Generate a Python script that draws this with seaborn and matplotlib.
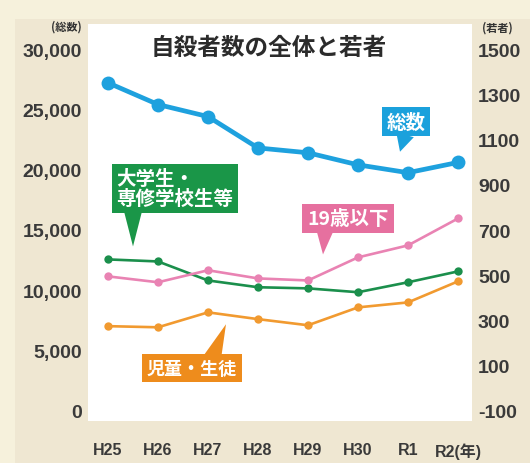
import matplotlib
matplotlib.use("Agg")
import matplotlib.pyplot as plt
import matplotlib.patches as mpatches
import seaborn as sns
import pandas as pd

# ---------------- data ----------------
years = ["H25", "H26", "H27", "H28", "H29", "H30", "R1", "R2(年)"]
total = [27200, 25400, 24400, 21800, 21400, 20400, 19750, 20600]          # 総数 (left axis)
univ = [570, 561, 477, 447, 442, 425, 469, 517]                           # 大学生・専修学校生等
under19 = [495, 469, 522, 486, 477, 579, 632, 751]                        # 19歳以下
students = [275, 270, 336, 306, 279, 358, 380, 473]                       # 児童・生徒

left_ticks = [0, 5000, 10000, 15000, 20000, 25000, 30000]
right_ticks = [-100, 100, 300, 500, 700, 900, 1100, 1300, 1500]

series_names = ["大学生・専修学校生等", "19歳以下", "児童・生徒"]
series_colors = ["#1b8f4c", "#e983b3", "#f19a30"]
box_colors = {"総数": "#1ba1dc", "19歳以下": "#e6709f",
              "大学生・\n専修学校生等": "#1a9648", "児童・生徒": "#ee8c1c"}

# ---------------- frames ----------------
x_idx = list(range(len(years)))
df_total = pd.DataFrame({"x": x_idx, "value": total})
df_young = pd.concat([
    pd.DataFrame({"x": x_idx, "value": vals, "series": name})
    for name, vals in zip(series_names, [univ, under19, students])
], ignore_index=True)

sns.set_theme(style="white")
plt.rcParams["font.family"] = ["Liberation Sans", "Noto Sans CJK JP", "DejaVu Sans"]
CJK = ["Noto Sans CJK JP", "DejaVu Sans"]

W, H = 530, 464
fig = plt.figure(figsize=(W / 100, H / 100), dpi=100, facecolor="#f6f1dc")
fig.patches.append(mpatches.Rectangle((15 / W, 0), 1, (H - 20) / H,
                                      transform=fig.transFigure,
                                      facecolor="#efe7d2", edgecolor="none",
                                      zorder=-5))

ax2 = fig.add_axes([88 / W, (H - 422) / H, (472 - 88) / W, (422 - 25) / H])
ax = ax2.twinx()
ax2.set_zorder(1)
ax.set_zorder(2)
ax.patch.set_visible(False)
ax2.patch.set_visible(True)
ax2.patch.set_facecolor("white")

# young series on the right axis
sns.lineplot(data=df_young, x="x", y="value", hue="series",
             hue_order=series_names, palette=series_colors,
             marker="o", markersize=6, markeredgewidth=0, linewidth=1.9,
             legend=False, ax=ax2)
# total on the left axis
sns.lineplot(data=df_total, x="x", y="value", color="#1ea1de",
             marker="o", markersize=10, markeredgewidth=0, linewidth=3.4,
             legend=False, ax=ax)

ax.yaxis.tick_left()
ax2.yaxis.tick_right()

ax.set_xlim(-0.4, 7.28)
ax.set_ylim(-829, 32072)
ax2.set_ylim(-144.2, 1610.5)

ax.set_yticks(left_ticks)
ax.set_yticklabels([f"{v:,}" for v in left_ticks])
ax2.set_yticks(right_ticks)
ax2.set_yticklabels([str(v) for v in right_ticks])
ax2.set_xticks(x_idx)
ax2.set_xticklabels(years)

for a in (ax, ax2):
    for s in a.spines.values():
        s.set_visible(False)
    a.set_xlabel("")
    a.set_ylabel("")
    a.grid(False)

ax.tick_params(axis="y", length=0, pad=4.3, labelsize=14, labelcolor="#3a3a3a")
ax2.tick_params(axis="y", length=0, pad=4.3, labelsize=14, labelcolor="#3a3a3a")
ax2.tick_params(axis="x", length=0, pad=15, labelsize=11.5, labelcolor="#3a3a3a")
for lab in ax.get_yticklabels() + ax2.get_yticklabels() + ax2.get_xticklabels():
    lab.set_fontweight("bold")

# title and unit labels
ax.text(0.471, 0.942, "自殺者数の全体と若者", transform=ax.transAxes,
        ha="center", va="center", fontsize=17, fontweight="bold",
        color="#2b2b2b", family=CJK)
fig.text(82 / W, 1 - 27 / H, "(総数)", ha="right", va="center",
         fontsize=8, color="#333333", family=CJK, fontweight="bold")
fig.text(482 / W, 1 - 28 / H, "(若者)", ha="left", va="center",
         fontsize=8, color="#333333", family=CJK, fontweight="bold")

# call-out labels: (text, box centre, pointer base, pointer tip, fontsize) in left-axis data coords
callouts = [
    ("総数", (5.96, 23966), (5.94, 22900), (5.84, 21486), 14),
    ("19歳以下", (4.80, 15950), (4.34, 15100), (4.30, 12974), 14),
    ("大学生・\n専修学校生等", (1.34, 18429), (0.50, 16600), (0.50, 13636), 14),
    ("児童・生徒", (1.68, 3554), (2.08, 4300), (2.36, 7190), 13),
]
for text, centre, base, tip, fs in callouts:
    col = box_colors[text]
    ax.annotate("", xy=tip, xytext=base,
                arrowprops=dict(arrowstyle="wedge,tail_width=1.1,shrink_factor=0.5",
                                fc=col, ec="none", shrinkA=0, shrinkB=0),
                zorder=6)
    ax.text(centre[0], centre[1], text, ha="center", va="center",
            multialignment="left",
            fontsize=fs, color="white", family=CJK, fontweight="bold",
            linespacing=1.05,
            bbox=dict(boxstyle="square,pad=0.25", fc=col, ec="none"),
            zorder=7)

fig.savefig("out.png", dpi=100, facecolor=fig.get_facecolor())
